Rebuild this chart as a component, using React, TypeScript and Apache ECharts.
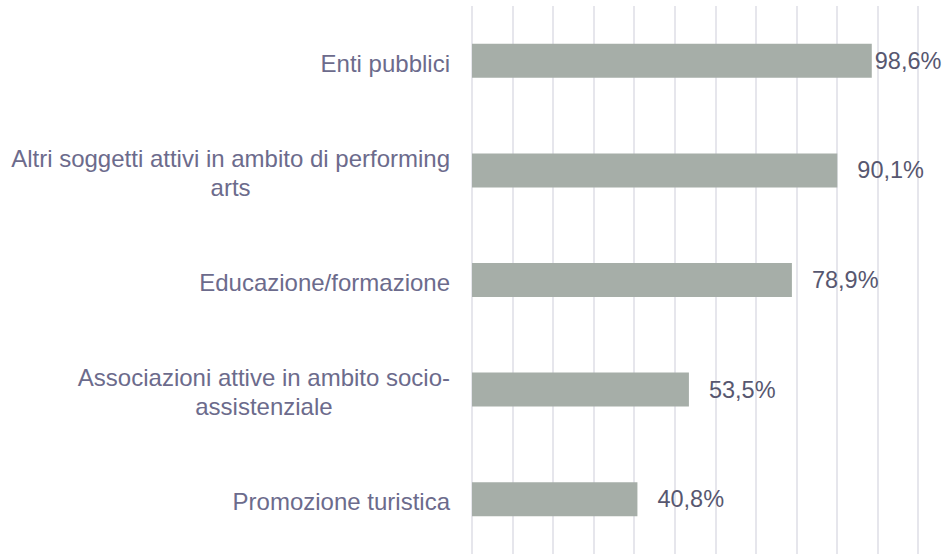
import React, { useEffect, useRef } from "react";
import * as echarts from "echarts";

const categories = [
  "Enti pubblici",
  "Altri soggetti attivi in ambito di performing\narts",
  "Educazione/formazione",
  "Associazioni attive in ambito socio-\nassistenziale",
  "Promozione turistica",
];
const values = [98.6, 90.1, 78.9, 53.5, 40.8];
const labelDistances = [3, 20, 20, 20, 20];

const FONT = "'Liberation Sans', Arial, Helvetica, sans-serif";

export default function App() {
  const ref = useRef<HTMLDivElement>(null);
  useEffect(() => {
    document.body.style.margin = "0";
    const chart = echarts.init(ref.current!, undefined, { renderer: "svg" });
    chart.setOption({
      animation: false,
      grid: { left: 472, right: 26, top: 6, height: 551, containLabel: false },
      xAxis: {
        type: "value",
        min: 0,
        max: 110,
        interval: 10,
        axisLine: { show: false },
        axisTick: { show: false },
        axisLabel: { show: false },
        splitLine: { show: true, lineStyle: { color: "#e6e6ec", width: 2 } },
      },
      yAxis: {
        type: "category",
        inverse: true,
        data: categories,
        axisLine: { show: false },
        axisTick: { show: false },
        splitLine: { show: false },
        axisLabel: {
          margin: 22,
          align: "right",
          fontFamily: FONT,
          fontSize: 24,
          color: "#6c6b8c",
          lineHeight: 29,
          padding: [5, 0, 0, 0],
          formatter: (v: string) =>
            v
              .split("\n")
              .map((l) => "{c|" + l + "}")
              .join("\n"),
          rich: {
            c: {
              align: "center",
              fontFamily: FONT,
              fontSize: 24,
              color: "#6c6b8c",
              lineHeight: 29,
            },
          },
        },
      },
      series: [
        {
          type: "bar",
          barWidth: 34,
          data: values.map((v, i) => ({
            value: v,
            label: { distance: labelDistances[i] },
          })),
          itemStyle: { color: "#a6aea8" },
          label: {
            show: true,
            position: "right",
            fontFamily: FONT,
            fontSize: 23.5,
            color: "#575770",
            formatter: (p: any) => p.value.toFixed(1).replace(".", ",") + "%",
          },
        },
      ],
    });
    return () => chart.dispose();
  }, []);
  return <div ref={ref} style={{ width: 944, height: 554 }} />;
}
